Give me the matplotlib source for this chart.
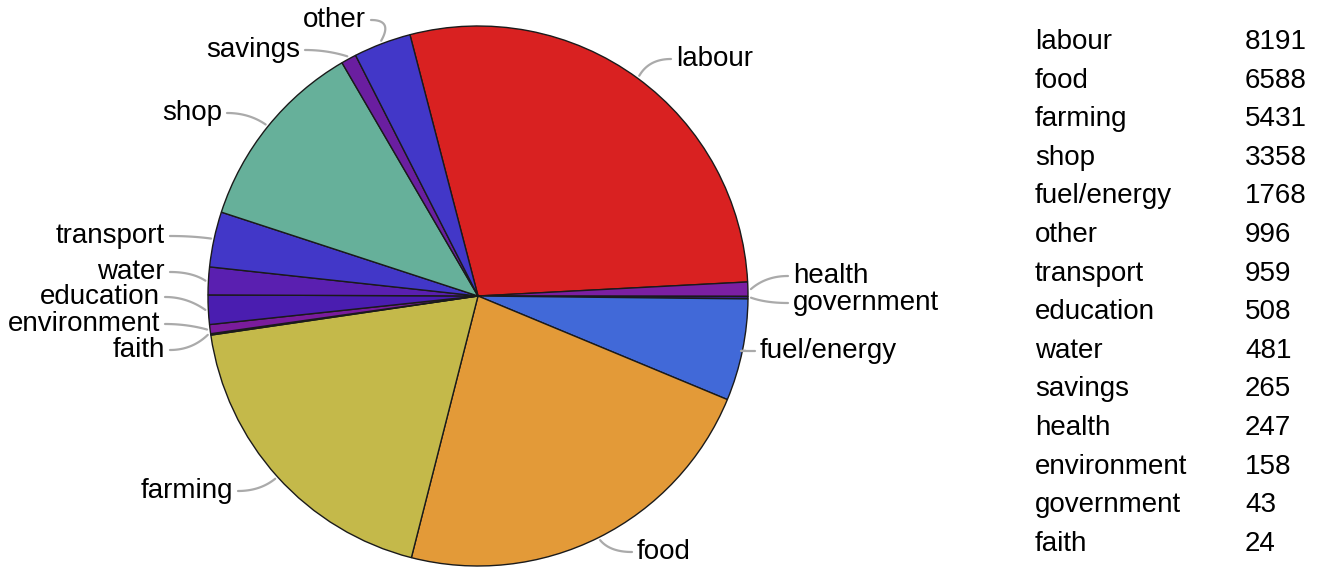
import matplotlib.pyplot as plt
import numpy as np

plt.rcParams['font.family'] = ['Liberation Sans', 'DejaVu Sans']

# slices in drawing order (clockwise from labour)
categories = ['labour', 'health', 'government', 'fuel/energy', 'food', 'farming',
              'faith', 'environment', 'education', 'water', 'transport', 'shop',
              'savings', 'other']
values = [8191, 247, 43, 1768, 6588, 5431, 24, 158, 508, 481, 959, 3358, 265, 996]
colors = ['#d92121', '#7b1fa2', '#3b1f8f', '#4169d8', '#e39a38', '#c4b94a',
          '#5a1a90', '#7a1c9c', '#4a1db0', '#5a1fb0', '#4237c8', '#66b09a',
          '#6a1ea0', '#4237c8']

# table on the right (sorted by value)
table_labels = ['labour', 'food', 'farming', 'shop', 'fuel/energy', 'other', 'transport',
                'education', 'water', 'savings', 'health', 'environment', 'government', 'faith']
table_values = [8191, 6588, 5431, 3358, 1768, 996, 959, 508, 481, 265, 247, 158, 43, 24]

W, H = 1322, 569
fig = plt.figure(figsize=(W / 100, H / 100), dpi=100)
ax = fig.add_axes([0, 0, 1, 1])

cx, cy, R = 478, H - 296, 270
start = 104.6
FS = 20

wedges, _ = ax.pie(values, colors=colors, startangle=start, counterclock=False,
                   center=(cx, cy), radius=R,
                   wedgeprops=dict(edgecolor='#1a1a1a', linewidth=1.0))
ax.set_xlim(0, W)
ax.set_ylim(0, H)
ax.set_aspect('auto')
ax.axis('off')

# label placement (pixel coords from top), side
label_pos = {
    'labour': (676, 59, 'left'),
    'health': (793, 276, 'left'),
    'government': (793, 303, 'left'),
    'fuel/energy': (760, 351, 'left'),
    'food': (637, 552, 'left'),
    'farming': (233, 491, 'right'),
    'faith': (165, 350, 'right'),
    'environment': (160, 324, 'right'),
    'education': (160, 297, 'right'),
    'water': (165, 272, 'right'),
    'transport': (165, 236, 'right'),
    'shop': (222, 113, 'right'),
    'savings': (300, 50, 'right'),
    'other': (366, 20, 'right'),
}

for w, name in zip(wedges, categories):
    mid = np.deg2rad((w.theta1 + w.theta2) / 2)
    px = cx + (R + 3) * np.cos(mid)
    py = cy + (R + 3) * np.sin(mid)
    tx, ty, side = label_pos[name]
    ty = H - ty
    ax.text(tx, ty, name, ha=side, va='center', fontsize=FS, color='black')
    sgn = -1 if side == 'left' else 1
    x0 = tx + sgn * 5
    x1 = x0 + sgn * 22
    t = np.linspace(0, 1, 30)
    bx = (1 - t) ** 2 * x0 + 2 * (1 - t) * t * x1 + t ** 2 * px
    by = (1 - t) ** 2 * ty + 2 * (1 - t) * t * ty + t ** 2 * py
    ax.plot(bx, by, color='#aaaaaa', lw=1.6, solid_capstyle='round')

for i, (lab, val) in enumerate(zip(table_labels, table_values)):
    y = H - (42 + i * 38.6)
    ax.text(1035, y, lab, ha='left', va='center', fontsize=FS, color='black')
    ax.text(1245, y, str(val), ha='left', va='center', fontsize=FS, color='black')

fig.savefig('out.png', dpi=100)
